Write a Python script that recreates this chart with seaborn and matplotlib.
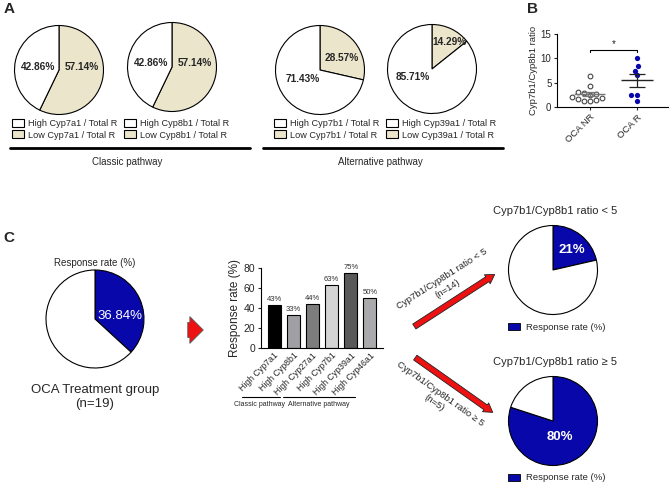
import numpy as np
import pandas as pd
import matplotlib.pyplot as plt
import seaborn as sns
from matplotlib.lines import Line2D
from matplotlib.patches import FancyArrowPatch, Patch

sns.set_theme(style='ticks')
plt.rcParams['font.family'] = ['Liberation Sans', 'DejaVu Sans']

# ---- data ----
# panel A: share of responders by gene expression level
pie_genes = ['Cyp7a1', 'Cyp8b1', 'Cyp7b1', 'Cyp39a1']
pie_low = [57.14, 57.14, 28.57, 14.29]
pie_high = [42.86, 42.86, 71.43, 85.71]

# panel B: Cyp7b1/Cyp8b1 ratio per patient
ratio_nr = [6.4, 4.3, 3.0, 2.9, 2.6, 2.4, 2.1, 1.9, 1.6, 1.4, 1.2, 1.3]
ratio_r = [10.0, 8.4, 7.5, 6.5, 2.4, 2.4, 1.2]
group_names = ['OCA NR', 'OCA R']

# panel C
overall_response = 36.84
bar_genes = ['High Cyp7a1', 'High Cyp8b1', 'High Cyp27a1', 'High Cyp7b1', 'High Cyp39a1', 'High Cyp46a1']
bar_rates = [43, 33, 44, 63, 75, 50]
bar_colors = ['#000000', '#a0a0a4', '#7d7d7d', '#d4d4d4', '#595959', '#a9a9ad']
low_ratio_response = 21.43
high_ratio_response = 80.0

BEIGE = '#ebe5cc'
BLUE = '#0808aa'
W, H = 669, 482

fig = plt.figure(figsize=(W / 100, H / 100), dpi=100)


def px_axes(x0, y0, w, h):
    return fig.add_axes([x0 / W, 1 - (y0 + h) / H, w / W, h / H])


def draw_pie(cx, cy, r, values, colors):
    s = r * 1.03
    ax = px_axes(cx - s, cy - s, 2 * s, 2 * s)
    wedges, _ = ax.pie(values, colors=colors, startangle=90, counterclock=False, radius=1,
                       wedgeprops=dict(edgecolor='black', linewidth=0.8))
    ax.set_xlim(-1.03, 1.03)
    ax.set_ylim(-1.03, 1.03)
    ax.axis('off')
    return ax, wedges


def ftext(x, y, s, **kw):
    fig.text(x / W, 1 - y / H, s, **kw)


def fline(x0, x1, y, lw=2.0):
    fig.add_artist(Line2D([x0 / W, x1 / W], [1 - y / H, 1 - y / H], color='black', lw=lw))


# ---- panel A ----
centers = [(59, 70), (172, 67), (320, 70), (432, 69)]
low_pos = [(0.52, 0.07), (0.52, 0.08), (0.49, 0.27), (0.4, 0.6)]
high_pos = [(-0.46, 0.07), (-0.46, 0.08), (-0.38, -0.2), (-0.44, -0.18)]
leg_x = [12, 124, 274, 386]

for i, gene in enumerate(pie_genes):
    cx, cy = centers[i]
    ax, wedges = draw_pie(cx, cy, 44.5, [pie_low[i], pie_high[i]], [BEIGE, 'white'])
    ax.text(*low_pos[i], f'{pie_low[i]:.2f}%', ha='center', va='center', fontsize=7.3, fontweight='bold')
    ax.text(*high_pos[i], f'{pie_high[i]:.2f}%', ha='center', va='center', fontsize=7.3, fontweight='bold')
    fig.legend([wedges[1], wedges[0]], [f'High {gene} / Total R', f'Low {gene} / Total R'],
               loc='upper left', bbox_to_anchor=(leg_x[i] / W, 1 - 119 / H), frameon=False,
               fontsize=6.6, handlelength=1.3, handleheight=0.95, handletextpad=0.5,
               labelspacing=0.25, borderpad=0, borderaxespad=0)

fline(10, 250, 148)
fline(263, 503, 148)
ftext(127, 162, 'Classic pathway', ha='center', va='center', fontsize=7)
ftext(380, 162, 'Alternative pathway', ha='center', va='center', fontsize=7)

# ---- panel B ----
dfb = pd.DataFrame({
    'group': [group_names[0]] * len(ratio_nr) + [group_names[1]] * len(ratio_r),
    'ratio': ratio_nr + ratio_r,
})
axb = px_axes(557, 34, 112, 73)
sns.swarmplot(data=dfb[dfb.group == group_names[0]], x='group', y='ratio', order=group_names,
              color='white', edgecolor='#444444', linewidth=0.8, size=3.4, ax=axb)
sns.swarmplot(data=dfb[dfb.group == group_names[1]], x='group', y='ratio', order=group_names,
              color=BLUE, size=3.8, ax=axb)
for k, g in enumerate(group_names):
    vals = dfb.loc[dfb.group == g, 'ratio']
    m, se = vals.mean(), vals.std() / np.sqrt(len(vals))
    c = '#777777' if k == 0 else '#222222'
    axb.hlines(m, k - 0.33, k + 0.33, color=c, lw=1.0, zorder=5)
    axb.vlines(k, m - se, m + se, color=c, lw=0.9, zorder=5)
    axb.hlines([m - se, m + se], k - 0.17, k + 0.17, color=c, lw=0.9, zorder=5)
axb.plot([0, 0, 1, 1], [11.3, 11.8, 11.8, 11.3], color='black', lw=0.8)
axb.text(0.5, 11.9, '*', ha='center', va='bottom', fontsize=7)
axb.set_xlim(-0.7, 1.68)
axb.set_ylim(0, 15)
axb.set_yticks([0, 5, 10, 15])
axb.set_xlabel('')
axb.set_ylabel('Cyp7b1/Cyp8b1 ratio', fontsize=6.8, labelpad=2)
axb.tick_params(axis='both', labelsize=7, length=2.5, width=0.8, pad=1.5)
plt.setp(axb.get_xticklabels(), rotation=45, ha='right', rotation_mode='anchor', fontsize=6.8)
for sp in ['left', 'bottom']:
    axb.spines[sp].set_linewidth(0.8)
    axb.spines[sp].set_color('black')
sns.despine(ax=axb)

# ---- panel C ----
axc, _ = draw_pie(95, 319, 49, [overall_response, 100 - overall_response], [BLUE, 'white'])
axc.text(0.5, 0.06, f'{overall_response:.2f}%', color='white', ha='center', va='center', fontsize=9.5)
ftext(95, 263, 'Response rate (%)', ha='center', va='center', fontsize=7)
ftext(95, 390, 'OCA Treatment group', ha='center', va='center', fontsize=9.5)
ftext(95, 404, '(n=19)', ha='center', va='center', fontsize=9.5)

# block arrow
fig.add_artist(FancyArrowPatch((185 / W, 1 - 330 / H), (206 / W, 1 - 330 / H), transform=fig.transFigure,
                               arrowstyle='simple,head_width=1.6,head_length=0.8,tail_width=0.9',
                               mutation_scale=12, facecolor='#ee1111', edgecolor='#555555', lw=0.6))

# bar chart
dfc = pd.DataFrame({'gene': bar_genes, 'rate': bar_rates})
axbar = px_axes(261, 268, 122, 80)
sns.barplot(data=dfc, x='gene', y='rate', hue='gene', palette=bar_colors, legend=False,
            width=0.68, edgecolor='black', linewidth=0.8, ax=axbar)
for k, v in enumerate(bar_rates):
    axbar.text(k, v + 2, f'{v}%', ha='center', va='bottom', fontsize=5.5, color='#333333')
axbar.set_xlim(-0.68, 5.68)
axbar.set_ylim(0, 80)
axbar.set_yticks([0, 20, 40, 60, 80])
axbar.set_xlabel('')
axbar.set_ylabel('Response rate (%)', fontsize=8.5, labelpad=2)
axbar.tick_params(axis='y', labelsize=7.5, length=2.5, width=0.8, pad=1.5)
axbar.tick_params(axis='x', labelsize=6.3, length=0, pad=2)
plt.setp(axbar.get_xticklabels(), rotation=45, ha='right', rotation_mode='anchor')
for sp in ['left', 'bottom']:
    axbar.spines[sp].set_linewidth(0.8)
    axbar.spines[sp].set_color('black')
sns.despine(ax=axbar)

fline(242, 280, 397, lw=0.8)
fline(283, 355, 397, lw=0.8)
ftext(285, 405, 'Classic pathway', ha='right', va='center', fontsize=5)
ftext(288, 405, 'Alternative pathway', ha='left', va='center', fontsize=5)

# diagonal arrows
for (x0, y0), (x1, y1) in [((412, 328), (497, 273)), ((413, 356), (495, 414))]:
    fig.add_artist(FancyArrowPatch((x0 / W, 1 - y0 / H), (x1 / W, 1 - y1 / H), transform=fig.transFigure,
                                   arrowstyle='simple,head_width=1.1,head_length=0.9,tail_width=0.6',
                                   mutation_scale=7, facecolor='#ee1111', edgecolor='#222222', lw=0.6))
ftext(445, 284, 'Cyp7b1/Cyp8b1 ratio < 5\n(n=14)', ha='center', va='center', fontsize=6.8,
      rotation=32.5, rotation_mode='anchor', linespacing=1.3)
ftext(437, 398, 'Cyp7b1/Cyp8b1 ratio \u2265 5\n(n=5)', ha='center', va='center', fontsize=6.8,
      rotation=-35.5, rotation_mode='anchor', linespacing=1.3)

# split pies
for cy, val, title, tpos in [(270, low_ratio_response, 'Cyp7b1/Cyp8b1 ratio < 5', (0.42, 0.45)),
                             (421, high_ratio_response, 'Cyp7b1/Cyp8b1 ratio \u2265 5', (0.15, -0.36))]:
    ax, _ = draw_pie(553, cy, 44.5, [val, 100 - val], [BLUE, 'white'])
    ax.text(*tpos, f'{val:.0f}%', color='white', ha='center', va='center', fontsize=9.5, fontweight='bold')
    ftext(555, cy - 59, title, ha='center', va='center', fontsize=8)
    fig.legend([Patch(facecolor=BLUE, edgecolor='black', lw=0.6)], ['Response rate (%)'],
               loc='center left', bbox_to_anchor=(508 / W, 1 - (cy + 57) / H), frameon=False,
               fontsize=6.8, handlelength=1.3, handleheight=0.8, handletextpad=0.6,
               borderpad=0, borderaxespad=0)

# panel letters
ftext(4, 9, 'A', fontsize=11, fontweight='bold', ha='left', va='center')
ftext(527, 9, 'B', fontsize=11, fontweight='bold', ha='left', va='center')
ftext(3, 238, 'C', fontsize=11, fontweight='bold', ha='left', va='center')

fig.savefig('out.png', dpi=100)
